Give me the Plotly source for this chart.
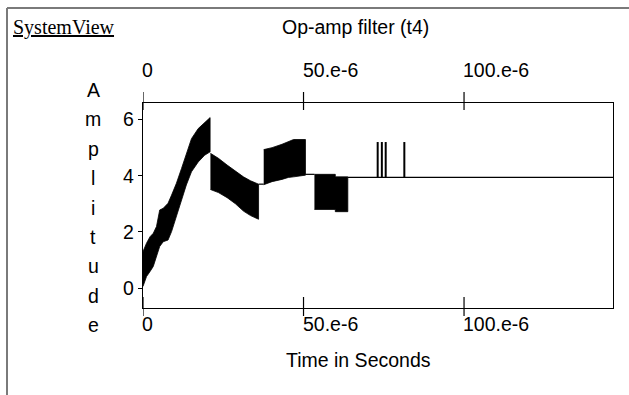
import plotly.graph_objects as go

# ---------------- data (time in microseconds, amplitude in volts) ----------------
band1_t = [0.0, 1.1, 2.2, 3.2, 4.2, 5.2, 6.3, 7.8, 8.9, 10.4, 12.0, 13.5, 15.1, 17.2, 19.2, 20.9]
band1_hi = [1.30, 1.60, 1.83, 1.95, 2.19, 2.78, 2.84, 3.02, 3.31, 3.73, 4.26, 4.79, 5.32, 5.68, 5.91, 6.07]
band1_lo = [0.06, 0.41, 0.59, 0.77, 1.12, 1.48, 1.65, 1.71, 2.01, 2.54, 3.13, 3.67, 4.14, 4.49, 4.73, 4.85]

band2_t = [21.0, 23.5, 26.2, 28.8, 31.3, 33.5, 36.0]
band2_hi = [4.80, 4.62, 4.38, 4.15, 3.96, 3.82, 3.70]
band2_lo = [3.51, 3.40, 3.22, 3.00, 2.74, 2.58, 2.45]

band3_t = [37.6, 40.2, 43.3, 45.3, 46.9, 50.6]
band3_hi = [4.93, 5.00, 5.12, 5.20, 5.29, 5.29]
band3_lo = [3.68, 3.79, 3.87, 3.94, 3.96, 4.02]

band4_t = [53.4, 59.9, 59.9, 63.8]
band4_hi = [4.05, 4.05, 3.96, 3.96]
band4_lo = [2.80, 2.80, 2.72, 2.72]

flat_start = [36.0, 50.6, 63.8]
flat_end = [37.6, 53.4, 146.4]
flat_level = [3.70, 4.05, 3.94]

spike_t = [73.1, 74.4, 75.6, 81.4]
spike_base = 3.94
spike_peak = [5.2, 5.2, 5.2, 5.2]

x_tick_vals = [0, 50, 100]
x_tick_text = ["0", "50.e-6", "100.e-6"]
y_tick_vals = [0, 2, 4, 6]
y_letters = list("Amplitude")

US = 1e-6

# ---------------- layout geometry ----------------
W, H = 629, 395
L, R, T, B = 143, 16, 103, 87
PW, PH = W - L - R, H - T - B


def pxx(px):
    return (px - L) / PW


def pxy(py):
    return (H - B - py) / PH


fig = go.Figure()

bands = [(band1_t, band1_hi, band1_lo), (band2_t, band2_hi, band2_lo),
         (band3_t, band3_hi, band3_lo), (band4_t, band4_hi, band4_lo)]
for t, hi, lo in bands:
    xs = [v * US for v in t] + [v * US for v in reversed(t)]
    ys = list(hi) + list(reversed(lo))
    fig.add_trace(go.Scatter(x=xs, y=ys, mode="lines", fill="toself",
                             fillcolor="black", line=dict(color="black", width=0.8),
                             hoverinfo="skip", showlegend=False))

fx, fy = [], []
for s, e, lv in zip(flat_start, flat_end, flat_level):
    fx += [s * US, e * US, None]
    fy += [lv, lv, None]
fig.add_trace(go.Scatter(x=fx, y=fy, mode="lines", line=dict(color="black", width=1.2),
                         showlegend=False, hoverinfo="skip"))

sx, sy = [], []
for t, p in zip(spike_t, spike_peak):
    sx += [t * US, t * US, None]
    sy += [spike_base, p, None]
fig.add_trace(go.Scatter(x=sx, y=sy, mode="lines", line=dict(color="black", width=2),
                         showlegend=False, hoverinfo="skip"))

shapes = []
# crossing tick marks on top and bottom x axes
for v in x_tick_vals:
    shapes.append(dict(type="line", xref="x", yref="paper", x0=v * US, x1=v * US,
                       y0=pxy(316), y1=pxy(297), line=dict(color="black", width=1.2)))
    shapes.append(dict(type="line", xref="x", yref="paper", x0=v * US, x1=v * US,
                       y0=pxy(92), y1=pxy(110), line=dict(color="black", width=1.2)))
# outer page frame
shapes.append(dict(type="line", xref="paper", yref="paper", x0=pxx(7), x1=pxx(629),
                   y0=pxy(8), y1=pxy(8), line=dict(color="#7a7a7a", width=2)))
shapes.append(dict(type="line", xref="paper", yref="paper", x0=pxx(7), x1=pxx(7),
                   y0=pxy(8), y1=pxy(395), line=dict(color="#7a7a7a", width=2)))

SANS = "Liberation Sans, Arial, sans-serif"
FS = 19.5
annotations = []
annotations.append(dict(text="<u>SystemView</u>", xref="paper", yref="paper", x=pxx(11), y=pxy(28),
                        xanchor="left", yanchor="middle", showarrow=False,
                        font=dict(family="Liberation Serif, Times New Roman, serif", size=20, color="black")))
annotations.append(dict(text="Op-amp filter (t4)", xref="paper", yref="paper", x=pxx(355.5), y=pxy(27),
                        xanchor="center", yanchor="middle", showarrow=False,
                        font=dict(family=SANS, size=FS, color="black")))
for v, txt in zip(x_tick_vals, x_tick_text):
    for py in (69.5, 324):
        annotations.append(dict(text=txt, xref="x", yref="paper", x=v * US, y=pxy(py),
                                xanchor="left", yanchor="middle", showarrow=False, xshift=-3,
                                font=dict(family=SANS, size=FS, color="black")))
annotations.append(dict(text="Time in Seconds", xref="paper", yref="paper", x=pxx(358), y=pxy(360),
                        xanchor="center", yanchor="middle", showarrow=False,
                        font=dict(family=SANS, size=FS, color="black")))
for i, ch in enumerate(y_letters):
    annotations.append(dict(text=ch, xref="paper", yref="paper", x=pxx(93), y=pxy(90 + i * 29.4),
                            xanchor="center", yanchor="middle", showarrow=False,
                            font=dict(family=SANS, size=FS, color="black")))

fig.update_layout(
    width=W, height=H, autosize=False,
    margin=dict(l=L, r=R, t=T, b=B, pad=0),
    paper_bgcolor="white", plot_bgcolor="white",
    showlegend=False,
    shapes=shapes, annotations=annotations,
    xaxis=dict(range=[0, 146.4 * US], showgrid=False, zeroline=False, showticklabels=False,
               ticks="", showline=True, mirror=True, linecolor="black", linewidth=1.2,
               fixedrange=True),
    yaxis=dict(range=[-0.71, 6.59], showgrid=False, zeroline=False, tickvals=y_tick_vals,
               ticks="outside", ticklen=4, tickcolor="black", tickwidth=1,
               tickfont=dict(family=SANS, size=FS, color="black"),
               showline=True, mirror=True, linecolor="black", linewidth=1.2, fixedrange=True),
)

fig.write_html("out.html", config={"displayModeBar": False, "staticPlot": True},
               post_script="document.body.style.margin='0';document.body.style.overflow='hidden';")
